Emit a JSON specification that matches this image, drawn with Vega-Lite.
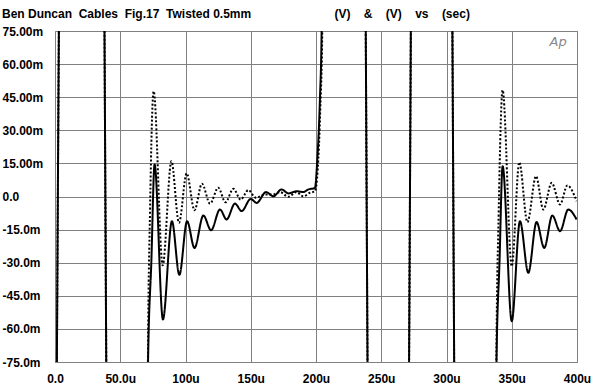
{
  "$schema": "https://vega.github.io/schema/vega-lite/v6.json",
  "width": 522,
  "height": 331,
  "autosize": "none",
  "padding": {"left": 55, "top": 31, "right": 23, "bottom": 26},
  "background": "white",
  "config": {
    "view": {"stroke": "#808080", "strokeWidth": 1},
    "font": "Liberation Sans"
  },
  "title": {
    "text": "Ben Duncan\u00a0\u00a0Cables\u00a0\u00a0Fig.17\u00a0\u00a0Twisted 0.5mm\u00a0\u00a0\u00a0\u00a0\u00a0\u00a0\u00a0\u00a0\u00a0\u00a0\u00a0\u00a0\u00a0\u00a0\u00a0\u00a0\u00a0\u00a0\u00a0\u00a0\u00a0\u00a0\u00a0\u00a0\u00a0(V)\u00a0\u00a0\u00a0\u00a0&\u00a0\u00a0\u00a0\u00a0(V)\u00a0\u00a0\u00a0\u00a0vs\u00a0\u00a0\u00a0\u00a0(sec)",
    "anchor": "start",
    "fontSize": 12,
    "fontWeight": "bold",
    "color": "black",
    "offset": 4
  },
  "layer": [
    {
      "data": {
        "values": [
          {"s": "dotted", "t": -0.6, "v": -300}, {"s": "dotted", "t": 7.4, "v": 300}, {"s": "dotted", "t": 34.6, "v": 300}, {"s": "dotted", "t": 42.6, "v": -300},
          {"s": "dotted", "t": 69.8, "v": -300}, {"s": "dotted", "t": 71.2, "v": -75}, {"s": "dotted", "t": 72.8, "v": -7}, {"s": "dotted", "t": 75.6, "v": 47.7},
          {"s": "dotted", "t": 82.5, "v": -31.2}, {"s": "dotted", "t": 89.2, "v": 16}, {"s": "dotted", "t": 95, "v": -11.9}, {"s": "dotted", "t": 100.9, "v": 10.5},
          {"s": "dotted", "t": 106.9, "v": -6.2}, {"s": "dotted", "t": 112.6, "v": 5.8}, {"s": "dotted", "t": 118.8, "v": -3.2}, {"s": "dotted", "t": 125.1, "v": 4},
          {"s": "dotted", "t": 130.6, "v": -2.6}, {"s": "dotted", "t": 136.7, "v": 3.5}, {"s": "dotted", "t": 142.3, "v": -1.4}, {"s": "dotted", "t": 148.1, "v": 2.9},
          {"s": "dotted", "t": 154, "v": -0.6}, {"s": "dotted", "t": 161, "v": 0.9}, {"s": "dotted", "t": 167, "v": 0.9}, {"s": "dotted", "t": 172.4, "v": 2},
          {"s": "dotted", "t": 178.8, "v": -0.1}, {"s": "dotted", "t": 185, "v": 2}, {"s": "dotted", "t": 190.3, "v": 0.1}, {"s": "dotted", "t": 195.4, "v": 1.7},
          {"s": "dotted", "t": 199.2, "v": 2.4}, {"s": "dotted", "t": 201.3, "v": 12}, {"s": "dotted", "t": 203.3, "v": 40}, {"s": "dotted", "t": 204.8, "v": 75},
          {"s": "dotted", "t": 207, "v": 300}, {"s": "dotted", "t": 234.8, "v": 300}, {"s": "dotted", "t": 242.8, "v": -300}, {"s": "dotted", "t": 268, "v": -300},
          {"s": "dotted", "t": 276, "v": 300}, {"s": "dotted", "t": 301.2, "v": 300}, {"s": "dotted", "t": 309.2, "v": -300}, {"s": "dotted", "t": 336.5, "v": -300},
          {"s": "dotted", "t": 338.2, "v": -75}, {"s": "dotted", "t": 340, "v": -7}, {"s": "dotted", "t": 343, "v": 48.2}, {"s": "dotted", "t": 350, "v": -31.6},
          {"s": "dotted", "t": 355.8, "v": 15.5}, {"s": "dotted", "t": 362, "v": -11.6}, {"s": "dotted", "t": 368.6, "v": 9.2}, {"s": "dotted", "t": 374.2, "v": -5.9},
          {"s": "dotted", "t": 380.6, "v": 6.2}, {"s": "dotted", "t": 387, "v": -3.6}, {"s": "dotted", "t": 392.6, "v": 5}, {"s": "dotted", "t": 399.7, "v": -2.1},

          {"s": "solid", "t": -0.6, "v": -300}, {"s": "solid", "t": 7.4, "v": 300}, {"s": "solid", "t": 34.6, "v": 300}, {"s": "solid", "t": 42.6, "v": -300},
          {"s": "solid", "t": 69.8, "v": -300}, {"s": "solid", "t": 71.3, "v": -75}, {"s": "solid", "t": 73.8, "v": -30}, {"s": "solid", "t": 76.3, "v": 14.5},
          {"s": "solid", "t": 82.7, "v": -55.7}, {"s": "solid", "t": 89.6, "v": -11.2}, {"s": "solid", "t": 95.3, "v": -35.5}, {"s": "solid", "t": 101.2, "v": -11.2},
          {"s": "solid", "t": 106.9, "v": -23.3}, {"s": "solid", "t": 113.7, "v": -8.6}, {"s": "solid", "t": 119.6, "v": -15.3}, {"s": "solid", "t": 126.4, "v": -5.9},
          {"s": "solid", "t": 131.5, "v": -10.4}, {"s": "solid", "t": 137.9, "v": -3.2}, {"s": "solid", "t": 143, "v": -6.6}, {"s": "solid", "t": 150, "v": -1.1},
          {"s": "solid", "t": 154.5, "v": -2.9}, {"s": "solid", "t": 161.7, "v": 2}, {"s": "solid", "t": 167.3, "v": 0.1}, {"s": "solid", "t": 173.7, "v": 3.2},
          {"s": "solid", "t": 178.8, "v": 1.4}, {"s": "solid", "t": 185.2, "v": 2.4}, {"s": "solid", "t": 190.3, "v": 2}, {"s": "solid", "t": 194.1, "v": 3.2},
          {"s": "solid", "t": 199.2, "v": 3.9}, {"s": "solid", "t": 201, "v": 16.8}, {"s": "solid", "t": 203, "v": 44}, {"s": "solid", "t": 204.3, "v": 75},
          {"s": "solid", "t": 206.5, "v": 300}, {"s": "solid", "t": 234.8, "v": 300}, {"s": "solid", "t": 242.8, "v": -300}, {"s": "solid", "t": 268, "v": -300},
          {"s": "solid", "t": 276, "v": 300}, {"s": "solid", "t": 301.2, "v": 300}, {"s": "solid", "t": 309.2, "v": -300}, {"s": "solid", "t": 336.5, "v": -300},
          {"s": "solid", "t": 338.3, "v": -75}, {"s": "solid", "t": 340.6, "v": -30}, {"s": "solid", "t": 343, "v": 13.7}, {"s": "solid", "t": 350, "v": -56.5},
          {"s": "solid", "t": 356.3, "v": -11.2}, {"s": "solid", "t": 362.7, "v": -34.6}, {"s": "solid", "t": 369, "v": -11.6}, {"s": "solid", "t": 374.9, "v": -23.3},
          {"s": "solid", "t": 381.1, "v": -8.6}, {"s": "solid", "t": 387, "v": -15.7}, {"s": "solid", "t": 393.3, "v": -5.9}, {"s": "solid", "t": 399.7, "v": -10.4}
        ]
      },
      "mark": {"type": "line", "interpolate": "monotone", "clip": true, "color": "black", "strokeWidth": 2},
      "encoding": {
        "x": {
          "field": "t", "type": "quantitative",
          "scale": {"domain": [0, 400], "nice": false, "zero": false},
          "axis": {
            "title": null, "values": [0, 50, 100, 150, 200, 250, 300, 350, 400], "tickCount": 20,
            "labelExpr": "datum.value == 0 ? '0.0' : datum.value == 50 ? '50.0u' : datum.value + 'u'",
            "grid": true, "gridColor": "#808080", "gridOpacity": 1, "gridWidth": 1,
            "domain": false, "ticks": false, "tickSize": 0,
            "labelFontSize": 12, "labelFontWeight": "bold", "labelColor": "black",
            "labelPadding": 11, "labelFlush": false, "labelOverlap": false
          }
        },
        "y": {
          "field": "v", "type": "quantitative",
          "scale": {"domain": [-75, 75], "nice": false, "zero": false},
          "axis": {
            "title": null, "values": [-75, -60, -45, -30, -15, 0, 15, 30, 45, 60, 75], "tickCount": 20,
            "labelExpr": "datum.value > 0 ? format(datum.value, '.2f') + 'm' : datum.value == 0 ? '0.0' : '-' + format(-datum.value, '.1f') + 'm'",
            "grid": true, "gridColor": "#808080", "gridOpacity": 1, "gridWidth": 1,
            "domain": false, "ticks": false, "tickSize": 0,
            "labelFontSize": 12, "labelFontWeight": "bold", "labelColor": "black",
            "labelAlign": "left", "labelPadding": 53, "labelFlush": false, "labelOverlap": false
          }
        },
        "detail": {"field": "s"},
        "strokeDash": {
          "field": "s", "type": "nominal",
          "scale": {"domain": ["dotted", "solid"], "range": [[2, 2], [1, 0]]},
          "legend": null
        }
      }
    },
    {
      "data": {"values": [{"t": 385.5, "v": 70, "label": "Ap"}]},
      "mark": {"type": "text", "font": "DejaVu Sans", "fontStyle": "italic", "fontSize": 13, "color": "#888888", "align": "center", "baseline": "middle"},
      "encoding": {
        "x": {"field": "t", "type": "quantitative"},
        "y": {"field": "v", "type": "quantitative"},
        "text": {"field": "label"}
      }
    }
  ]
}
